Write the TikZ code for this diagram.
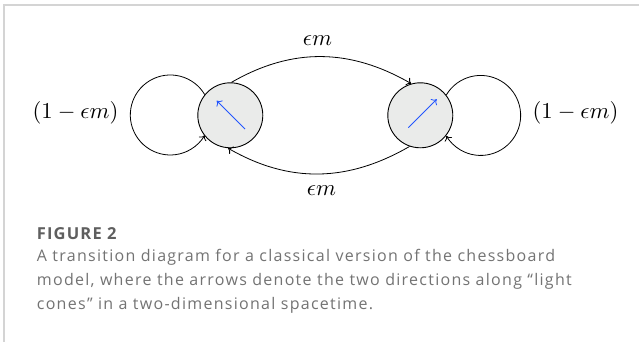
\documentclass[tikz,border=0pt]{standalone}
\usepackage{graphicx}
\usepackage{fontspec}
\newfontfamily\capfont[LetterSpace=8]{Open Sans}
\newfontfamily\capheadfont[LetterSpace=7]{Open Sans}
\usetikzlibrary{arrows.meta}
\definecolor{nodefill}{RGB}{234,235,234}
\definecolor{arrblue}{RGB}{35,85,255}
\definecolor{captxt}{RGB}{115,115,115}
\definecolor{caphead}{RGB}{95,95,95}
\definecolor{framegray}{RGB}{212,212,212}
\newcommand{\bigmath}[1]{\scalebox{2.27}{$#1$}}
\tikzset{
  x=1pt,y=-1pt,
  state/.style={circle,draw=black,line width=0.9pt,fill=nodefill,minimum size=65pt,inner sep=0pt},
  trans/.style={draw=black,line width=0.8pt,-{To[length=4.5pt,width=8.5pt]}},
  spin/.style={draw=arrblue,line width=0.8pt,-{To[length=4.5pt,width=8.5pt]}},
  mlabel/.style={inner sep=0pt},
  capline/.style={anchor=base west,inner sep=0pt,text=captxt,font=\capfont\fontsize{16}{20}\selectfont},
}
\begin{document}
\begin{tikzpicture}
\useasboundingbox (0,0) rectangle (639,342);
\fill[white] (0,0) rectangle (639,342);
% frame
\draw[framegray,line width=1.5pt] (4,342) -- (4,5) -- (639,5);
% states
\node[state] (L) at (230.3,115.3) {};
\node[state] (R) at (420.3,115.3) {};
% spin arrows
\coordinate (la) at (245,129);
\coordinate (lb) at (216.7,100.7);
\coordinate (ra) at (408.3,127.7);
\coordinate (rb) at (436.7,99.3);
\draw[spin] (la) -- (lb);
\draw[spin] (ra) -- (rb);
% transitions
\draw[trans] (L.88) to[out=30,in=150] (R.106);
\draw[trans] (R.251) to[out=-150,in=-30] (L.266);
% self loops
\draw[trans] (L.141.8) arc[start angle=-30.7,end angle=-329.3,radius=40];
\draw[trans] (R.38.2) arc[start angle=-149.3,end angle=149.3,radius=40];
% labels
\node[mlabel] (lt) at (75.5,113.3) {\bigmath{(1-\epsilon m)}};
\node[mlabel] (rt) at (575.5,113.3) {\bigmath{(1-\epsilon m)}};
\node[mlabel] (tt) at (317.5,40.8) {\bigmath{\epsilon m}};
\node[mlabel] (bt) at (321.5,190.8) {\bigmath{\epsilon m}};
% caption
\node[capline,text=caphead,font=\capheadfont\bfseries\fontsize{16.5}{20}\selectfont] (fig) at (36.7,239) {FIGURE 2};
\node[capline] (c1) at (36.7,261.7) {A transition diagram for a classical version of the chessboard};
\node[capline] (c2) at (36.7,285.7) {model, where the arrows denote the two directions along “light};
\node[capline] (c3) at (36.7,309) {cones” in a two-dimensional spacetime.};
\end{tikzpicture}
\end{document}
